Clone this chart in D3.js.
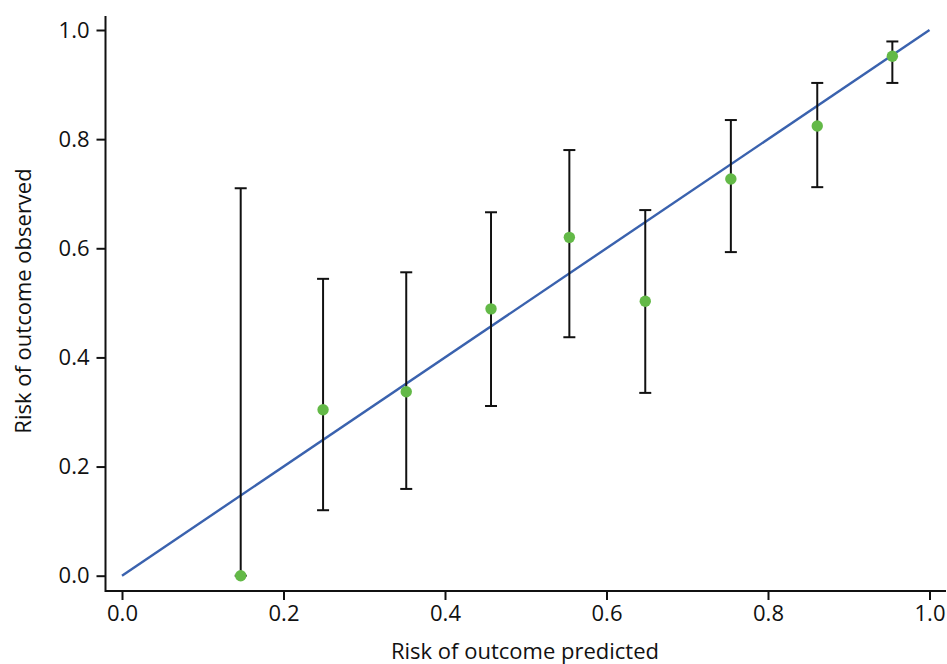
<!DOCTYPE html>
<html>
<head>
<meta charset="utf-8">
<script src="https://cdn.jsdelivr.net/npm/d3@7"></script>
<style>
  body { margin: 0; background: #fff; }
  svg text { font-family: "Open Sans", "DejaVu Sans", sans-serif; fill: #111; }
</style>
</head>
<body>
<svg id="chart" width="947" height="664"></svg>
<script>
// Calibration groups: mean predicted risk, observed risk and 95% CI
let predicted = [0.147, 0.249, 0.352, 0.457, 0.554, 0.648, 0.754, 0.861, 0.954];
let observed  = [0.0, 0.304, 0.337, 0.489, 0.620, 0.503, 0.727, 0.824, 0.952];
let ciLower   = [0.0, 0.120, 0.159, 0.311, 0.437, 0.335, 0.593, 0.712, 0.903];
let ciUpper   = [0.710, 0.544, 0.556, 0.666, 0.780, 0.670, 0.835, 0.903, 0.979];
let tickValues = [0.0, 0.2, 0.4, 0.6, 0.8, 1.0];
let refLine = [0, 1];

let svg = d3.select('#chart');

let x = d3.scaleLinear().domain([0, 1]).range([122, 929.5]);
let y = d3.scaleLinear().domain([0, 1]).range([575.7, 30]);

let points = predicted.map((p, i) => ({
  p: p, o: observed[i], lo: ciLower[i], hi: ciUpper[i]
}));

// Axes (spines are offset from the data area, matplotlib style)
let xAxis = d3.axisBottom(x).tickValues(tickValues)
    .tickFormat(d3.format('.1f')).tickSizeOuter(0).tickSize(9).tickPadding(5);
let yAxis = d3.axisLeft(y).tickValues(tickValues)
    .tickFormat(d3.format('.1f')).tickSizeOuter(0).tickSize(9).tickPadding(7);

let gx = svg.append('g').attr('transform', 'translate(0,591)').call(xAxis);
gx.select('.domain').remove();
gx.append('line').attr('x1', 105).attr('x2', 946).attr('y1', 0).attr('y2', 0)
    .attr('stroke', '#111').attr('stroke-width', 2);

let gy = svg.append('g').attr('transform', 'translate(105.5,0)').call(yAxis);
gy.select('.domain').remove();
gy.append('line').attr('x1', 0).attr('x2', 0).attr('y1', 16).attr('y2', 592)
    .attr('stroke', '#111').attr('stroke-width', 2);

gx.selectAll('.tick line').attr('stroke', '#111').attr('stroke-width', 2);
gy.selectAll('.tick line').attr('stroke', '#111').attr('stroke-width', 2);
svg.selectAll('.tick text').style('font-size', '22px').attr('fill', '#111');

// Perfect calibration line
svg.append('line')
    .attr('x1', x(refLine[0])).attr('y1', y(refLine[0]))
    .attr('x2', x(refLine[1])).attr('y2', y(refLine[1]))
    .attr('stroke', '#3a62ae').attr('stroke-width', 2.4);

// Error bars
let bars = svg.append('g').selectAll('g.err').data(points).join('g')
    .attr('class', 'err');
bars.append('line')
    .attr('x1', d => x(d.p)).attr('x2', d => x(d.p))
    .attr('y1', d => y(d.lo)).attr('y2', d => y(d.hi))
    .attr('stroke', '#111').attr('stroke-width', 2);
bars.append('line')
    .attr('x1', d => x(d.p) - 6).attr('x2', d => x(d.p) + 6)
    .attr('y1', d => y(d.hi)).attr('y2', d => y(d.hi))
    .attr('stroke', '#111').attr('stroke-width', 2);
bars.append('line')
    .attr('x1', d => x(d.p) - 6).attr('x2', d => x(d.p) + 6)
    .attr('y1', d => y(d.lo)).attr('y2', d => y(d.lo))
    .attr('stroke', '#111').attr('stroke-width', 2);

// Observed points
svg.append('g').selectAll('circle').data(points).join('circle')
    .attr('cx', d => x(d.p)).attr('cy', d => y(d.o))
    .attr('r', 5.7).attr('fill', '#63b947');

// Axis titles
svg.append('text')
    .attr('x', 525).attr('y', 659)
    .attr('text-anchor', 'middle')
    .style('font-size', '22px')
    .text('Risk of outcome predicted');

svg.append('text')
    .attr('transform', 'translate(31,301) rotate(-90)')
    .attr('text-anchor', 'middle')
    .style('font-size', '22px')
    .text('Risk of outcome observed');
</script>
</body>
</html>
